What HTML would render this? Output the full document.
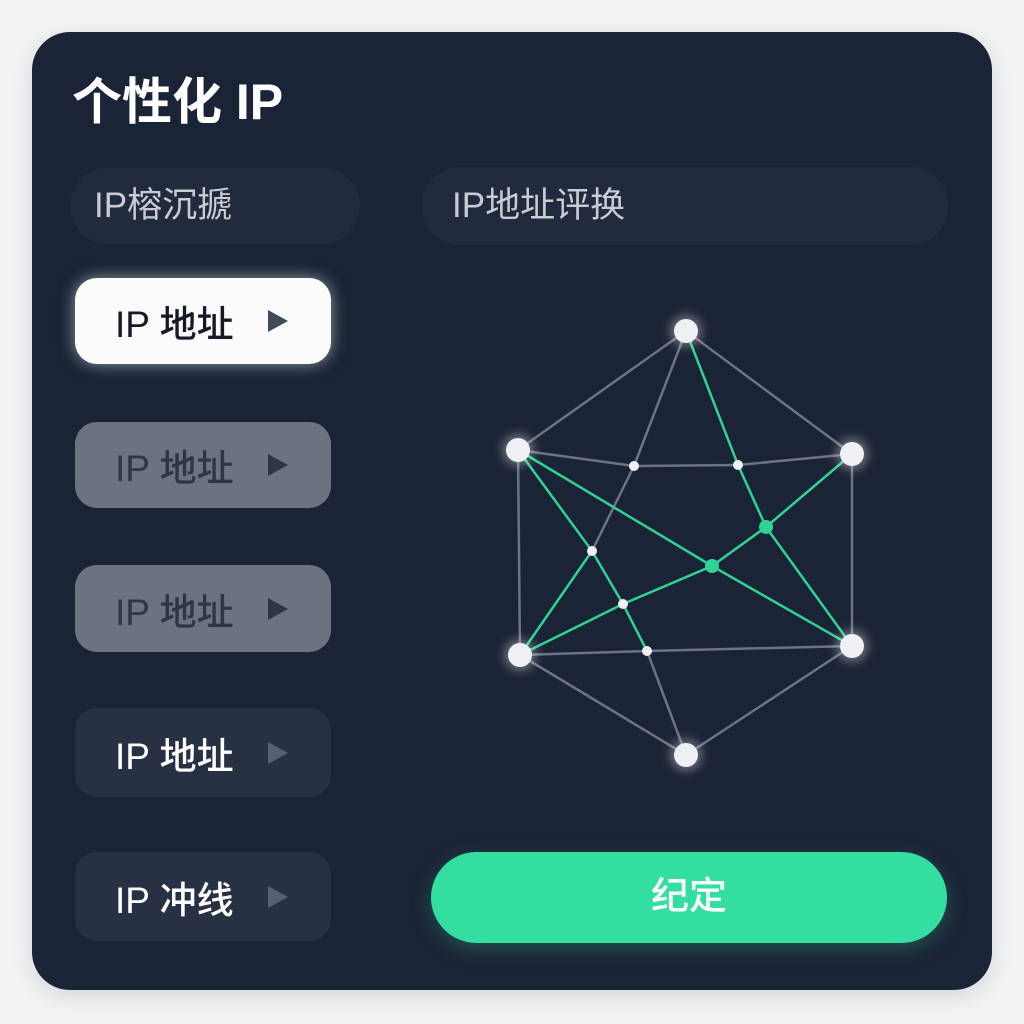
<!DOCTYPE html>
<html><head><meta charset="utf-8"><style>
body{margin:0;width:1024px;height:1024px;background:#f2f3f5;position:relative;overflow:hidden;font-family:"Liberation Sans","Noto Sans CJK SC",sans-serif}
.card{position:absolute;left:32px;top:32px;width:960px;height:958px;background:#1b2336;border-radius:38px;box-shadow:0 6px 24px rgba(0,0,0,.12)}
.t{position:absolute;left:72px;top:70px;color:#fff;font-size:50px;font-weight:bold;line-height:64px}
.pill{position:absolute;background:#222a3d;border-radius:38px;color:#c9ccd4;font-size:35px;line-height:76px;padding-left:24px;box-sizing:border-box}
.btn{position:absolute;left:75px;width:256px;border-radius:22px;font-size:37px;font-weight:500;box-sizing:border-box;padding-left:40px;display:flex;align-items:center}
.btn .a{position:absolute;left:193px;width:0;height:0;border-top:11px solid transparent;border-bottom:11px solid transparent;border-left:20px solid #414a5a}
.go{position:absolute;left:431px;top:852px;width:516px;height:91px;border-radius:46px;background:#33dea0;color:#fff;font-size:38px;font-weight:500;text-align:center;line-height:91px;box-shadow:0 6px 20px rgba(51,222,160,.25)}
</style></head><body>
<div class="card"></div>
<div class="t">个性化 IP</div>
<div class="pill" style="left:70px;top:168px;width:290px;height:76px">IP榕沉搋</div>
<div class="pill" style="left:422px;top:167px;width:526px;height:78px;line-height:78px;padding-left:30px">IP地址评换</div>
<div class="btn" style="top:278px;height:86px;background:#fbfbfb;color:#151a26;box-shadow:0 0 16px rgba(200,240,230,.6)">IP 地址<span class="a"></span></div>
<div class="btn" style="top:422px;height:86px;background:#6b7282;color:#2e3544">IP 地址<span class="a" style="border-left-color:#2e3544"></span></div>
<div class="btn" style="top:565px;height:87px;background:#6b7282;color:#2e3544">IP 地址<span class="a" style="border-left-color:#2e3544"></span></div>
<div class="btn" style="top:708px;height:89px;background:#283043;color:#fff">IP 地址<span class="a" style="border-left-color:#566072"></span></div>
<div class="btn" style="top:852px;height:89px;background:#283043;color:#fff">IP 冲线<span class="a" style="border-left-color:#566072"></span></div>
<div class="go">纪定</div>
<svg width="1024" height="1024" style="position:absolute;left:0;top:0">
<defs><filter id="g" x="-1" y="-1" width="3" height="3"><feGaussianBlur stdDeviation="5"/></filter></defs>
<g stroke="#6c7384" stroke-width="2.5" fill="none">
<polyline points="518,450 686,331 852,454 852,646 686,755 520,655 518,450"/>
<polyline points="518,450 634,466 738,465 852,454"/>
<polyline points="520,655 647,651 852,646"/>
<polyline points="686,331 634,466 592,551"/>
<line x1="647" y1="651" x2="686" y2="755"/>
</g>
<g stroke="#2fd393" stroke-width="2.5" fill="none">
<polyline points="686,331 738,465 766,527 852,646"/>
<polyline points="852,454 766,527 712,566 623,604 520,655"/>
<polyline points="518,450 712,566 852,646"/>
<polyline points="518,450 592,551 623,604 647,651"/>
<line x1="592" y1="551" x2="520" y2="655"/>
</g>
<g fill="#fff" opacity=".35" filter="url(#g)">
<circle cx="686" cy="331" r="16"/><circle cx="518" cy="450" r="16"/><circle cx="852" cy="454" r="16"/><circle cx="520" cy="655" r="16"/><circle cx="852" cy="646" r="16"/><circle cx="686" cy="755" r="16"/>
</g>
<g fill="#eef0f3">
<circle cx="686" cy="331" r="12"/><circle cx="518" cy="450" r="12"/><circle cx="852" cy="454" r="12"/><circle cx="520" cy="655" r="12"/><circle cx="852" cy="646" r="12"/><circle cx="686" cy="755" r="12"/>
<circle cx="634" cy="466" r="5"/><circle cx="738" cy="465" r="5"/><circle cx="592" cy="551" r="5"/><circle cx="623" cy="604" r="5"/><circle cx="647" cy="651" r="5"/>
</g>
<g fill="#2fd393"><circle cx="766" cy="527" r="7"/><circle cx="712" cy="566" r="7"/></g>
</svg>
</body></html>
